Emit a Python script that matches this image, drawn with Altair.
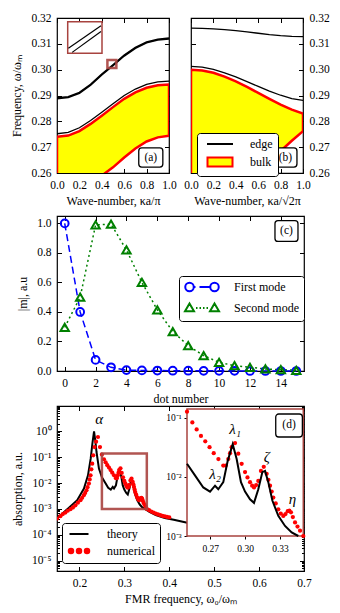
import altair as alt
import pandas as pd

FONT = "Liberation Serif"
BROWN = "#a8433f"

# ---------------- panel (a) ----------------
k = [0.0, 0.1, 0.2, 0.3, 0.4, 0.5, 0.6, 0.7, 0.8, 0.9, 1.0]
a_edge1_lo = [0.2888, 0.2892, 0.2909, 0.2940, 0.2980, 0.3016, 0.3053, 0.3083, 0.3104, 0.3115, 0.3119]
a_edge1_hi = [0.2891, 0.2895, 0.2912, 0.2943, 0.2983, 0.3019, 0.3056, 0.3086, 0.3107, 0.3118, 0.3122]
a_edge2 = [0.2752, 0.2757, 0.2775, 0.2803, 0.2835, 0.2868, 0.2900, 0.2925, 0.2943, 0.2953, 0.2956]
a_bulk_top = [0.2740, 0.2745, 0.2762, 0.2790, 0.2822, 0.2855, 0.2887, 0.2912, 0.2930, 0.2940, 0.2943]
a_bulk_bot = [0.2525, 0.2530, 0.2545, 0.2565, 0.2590, 0.2622, 0.2660, 0.2695, 0.2722, 0.2738, 0.2744]
# zoomed inset of the double line
a_zoom_k_hi = [0.4516, 0.5276]
a_zoom_f_hi = [0.30110, 0.30330]
a_zoom_k_lo = [0.4604, 0.5276]
a_zoom_f_lo = [0.30069, 0.30274]

# ---------------- panel (b) ----------------
b_edge_top = [0.3161, 0.3160, 0.3158, 0.3155, 0.3151, 0.3146, 0.3141, 0.3136, 0.3132, 0.3129, 0.3128]
b_edge2 = [0.3013, 0.3010, 0.3001, 0.2988, 0.2972, 0.2954, 0.2935, 0.2917, 0.2901, 0.2888, 0.2881]
b_bulk_top = [0.3000, 0.2997, 0.2988, 0.2973, 0.2955, 0.2933, 0.2910, 0.2887, 0.2865, 0.2845, 0.2830]
b_bulk_bot = [0.2450, 0.2458, 0.2475, 0.2500, 0.2530, 0.2565, 0.2605, 0.2645, 0.2685, 0.2725, 0.2762]

# ---------------- panel (c) ----------------
dot_number = list(range(16))
first_mode = [1.0, 0.40, 0.075, 0.025, 0.006, 0.004, 0.003, 0.002, 0.002, 0.001, 0.001, 0.001, 0.0, 0.0, 0.0, 0.0]
second_mode = [0.296, 0.50, 0.99, 0.995, 0.82, 0.60, 0.414, 0.267, 0.172, 0.104, 0.059, 0.036, 0.025, 0.014, 0.009, 0.005]

# ---------------- panel (d) ----------------
theory_w = [0.150, 0.158, 0.176, 0.195, 0.210, 0.219, 0.225, 0.229, 0.2325, 0.2355, 0.238, 0.2434,
            0.2500, 0.257, 0.264, 0.2698, 0.2741, 0.2769, 0.2812, 0.285, 0.2893, 0.2927, 0.2964,
            0.2999, 0.3042, 0.3076, 0.3113, 0.3148, 0.3171, 0.3199, 0.3234, 0.3285, 0.3343, 0.340,
            0.3457, 0.355, 0.370, 0.390, 0.410, 0.440, 0.470, 0.500]
theory_log10 = [-3.37, -3.24, -2.96, -2.66, -2.21, -1.70, -1.06, -0.45, 0.0, -0.40, -0.80, -1.44,
                -1.78, -1.98, -2.18, -2.25, -2.15, -2.21, -2.09, -1.73, -1.45, -1.70, -2.09,
                -2.25, -2.38, -2.44, -2.21, -1.92, -1.90, -2.09, -2.40, -2.66, -2.83, -2.94,
                -3.00, -3.10, -3.24, -3.35, -3.42, -3.53, -3.60, -3.66]
num_w = [0.150, 0.1575, 0.163, 0.1687, 0.174, 0.180, 0.1855, 0.191, 0.1965, 0.2023, 0.206, 0.2098,
         0.2127, 0.2157, 0.218, 0.221, 0.2228, 0.2247, 0.2265, 0.2284, 0.2307, 0.2336, 0.2370,
         0.2412, 0.2457, 0.2500, 0.2546, 0.2583, 0.2620, 0.2657, 0.2694, 0.2730, 0.2770, 0.2812,
         0.2833, 0.2855, 0.2870, 0.2884, 0.2913, 0.2941, 0.2970, 0.2999, 0.3020, 0.3042, 0.3060,
         0.3076, 0.3095, 0.3113, 0.3136, 0.3160, 0.3185, 0.3200, 0.3214, 0.3228, 0.3242, 0.3263,
         0.3285, 0.3306, 0.3328, 0.3347, 0.3366, 0.3380, 0.3394, 0.3410, 0.3429, 0.3450, 0.3472,
         0.3500, 0.3550, 0.3600, 0.3650, 0.3700, 0.3750, 0.3800, 0.3850, 0.3900, 0.3950, 0.4000]
num_log10 = [-3.37, -3.28, -3.20, -3.14, -3.07, -3.01, -2.94, -2.86, -2.76, -2.66, -2.57, -2.47,
             -2.38, -2.28, -2.16, -2.02, -1.86, -1.70, -1.47, -1.25, -0.93, -0.61, -0.40,
             -0.22, -0.61, -0.90, -1.08, -1.20, -1.31, -1.40, -1.50, -1.60, -1.70, -1.81,
             -1.81, -1.70, -1.60, -1.50, -1.43, -1.61, -1.78, -1.92, -2.01, -2.09, -2.15,
             -2.18, -2.14, -2.07, -1.90, -1.83, -1.95, -2.05, -2.15, -2.25, -2.35, -2.45,
             -2.55, -2.62, -2.66, -2.63, -2.58, -2.57, -2.60, -2.68, -2.77, -2.84, -2.91,
             -3.00, -3.05, -3.10, -3.14, -3.18, -3.21, -3.24, -3.27, -3.29, -3.31, -3.33]
peak_labels = ["α", "λ₁", "λ₂", "ζ", "η"]
peak_w = [0.244, 0.2913, 0.2741, 0.3185, 0.3406]
peak_log10 = [0.49, -1.19, -1.95, -1.67, -2.38]

# panel label boxes (data coordinates of each panel)
lab_a = dict(x=0.73, x2=0.945, y=0.2623, y2=0.2697)
lab_b = dict(x=0.74, x2=0.946, y=0.2623, y2=0.2697)
lab_c = dict(x=13.62, x2=15.11, y=0.878, y2=1.018)
lab_d = dict(x=0.3263, x2=0.3492, y=10 ** -1.327, y2=10 ** -0.938)

# ---------------- sizes ----------------
AW, AH = 112, 155
CW, CH = 247, 155
DW, DH = 247, 165

DUMMY = pd.DataFrame({"x": [1.0], "y": [1.0]})
DECADE = "abs(log(datum.value)/LN10 - round(log(datum.value)/LN10)) < 0.001"


def lab_axis(orient, values, fmt=None, title=None, label_expr=None, title_pad=5):
    kw = dict(orient=orient, values=values, ticks=False, domain=False, grid=False,
              labelFont=FONT, labelFontSize=11.5, labelPadding=6, labelColor="black",
              titleFont=FONT, titleFontSize=12, titleFontWeight="normal", titleColor="black",
              titlePadding=title_pad, labelFlush=False, labelOverlap=False)
    if fmt:
        kw["format"] = fmt
    if label_expr:
        kw["labelExpr"] = label_expr
    kw["title"] = title if title else None
    return alt.Axis(**kw)


def inward_ticks(xdom, ydom, w, h, xvals, yvals, ytype="linear", minor=False):
    base = alt.Chart(DUMMY).transform_filter("false").mark_point(opacity=0)

    def ax(orient, off, vals, cond):
        ts = {"condition": {"test": DECADE, "value": 4.5}, "value": 2.5} if cond else 4.5
        return alt.Axis(orient=orient, offset=off, values=vals, labels=False, domain=False,
                        grid=False, title=None, ticks=True, tickSize=ts, tickColor="black",
                        tickWidth=1, minExtent=0, maxExtent=5)
    if ytype == "log":
        ysc = alt.Scale(domain=ydom, type="log", nice=False)
    else:
        ysc = alt.Scale(domain=ydom, nice=False, zero=False)
    out = []
    for xo, yo in [("top", "right"), ("bottom", "left")]:
        out.append(base.encode(
            x=alt.X("x:Q", scale=alt.Scale(domain=xdom, nice=False, zero=False),
                    axis=ax(xo, -h, xvals, False)),
            y=alt.Y("y:Q", scale=ysc, axis=ax(yo, -w, yvals, minor))))
    return out


def label_box(df_box, text, xsc, ysc):
    d = pd.DataFrame([{**df_box, "t": text,
                       "xm": (df_box["x"] + df_box["x2"]) / 2}])
    if ysc.type == "log":
        d["ym"] = (d["y"] * d["y2"]) ** 0.5
    else:
        d["ym"] = (d["y"] + d["y2"]) / 2
    rect = alt.Chart(d).mark_rect(fill="white", stroke="black", strokeWidth=1.3,
                                  cornerRadius=3).encode(
        x=alt.X("x:Q", scale=xsc, axis=None), x2="x2:Q",
        y=alt.Y("y:Q", scale=ysc, axis=None), y2="y2:Q")
    txt = alt.Chart(d).mark_text(font=FONT, fontSize=11.5, color="black").encode(
        x=alt.X("xm:Q", scale=xsc, axis=None), y=alt.Y("ym:Q", scale=ysc, axis=None),
        text="t:N")
    return [rect, txt]


def legend_layer(labels, shapes, strokes, fills, lx, ly, size=100, sym_off=12, lab_off=24,
                 row_pad=3, pad=5):
    leg = alt.Legend(title=None, orient="none", legendX=lx, legendY=ly, strokeColor="black",
                     fillColor="white", cornerRadius=3, padding=pad, labelFont=FONT,
                     labelFontSize=12, labelColor="black", symbolStrokeWidth=2,
                     symbolSize=size, symbolOffset=sym_off, labelOffset=lab_off,
                     rowPadding=row_pad, symbolOpacity=1)
    d = pd.DataFrame({"lab": labels})
    return alt.Chart(d).transform_filter("false").mark_point(filled=True).encode(
        shape=alt.Shape("lab:N", scale=alt.Scale(domain=labels, range=shapes), legend=leg),
        stroke=alt.Stroke("lab:N", scale=alt.Scale(domain=labels, range=strokes), legend=leg),
        fill=alt.Fill("lab:N", scale=alt.Scale(domain=labels, range=fills), legend=leg))


def panel(layers, w, h):
    return alt.layer(*layers).resolve_scale(x="independent", y="independent").properties(
        width=w, height=h)


# ================= panel (a) =================
xa_sc = alt.Scale(domain=[0, 1], nice=False, zero=False)
ya_sc = alt.Scale(domain=[0.26, 0.32], nice=False, zero=False)
kvals = [0, 0.2, 0.4, 0.6, 0.8, 1.0]
fvals = [0.26, 0.27, 0.28, 0.29, 0.30, 0.31, 0.32]

dfa = pd.DataFrame({"k": k, "bt": a_bulk_top, "bb": a_bulk_bot})
dfa_lines = pd.concat([
    pd.DataFrame({"k": k, "f": a_edge1_lo, "s": "e1lo", "w": 1.6}),
    pd.DataFrame({"k": k, "f": a_edge1_hi, "s": "e1hi", "w": 1.6}),
    pd.DataFrame({"k": k, "f": a_edge2, "s": "e2", "w": 1.3}),
])
a_area = alt.Chart(dfa).mark_area(fill="yellow", stroke="red", strokeWidth=2.5, clip=True).encode(
    x=alt.X("k:Q", scale=xa_sc, axis=lab_axis("bottom", kvals, ".1f", "Wave-number, κa/π")),
    y=alt.Y("bt:Q", scale=ya_sc, axis=lab_axis("left", fvals, ".2f", "Frequency, ω/ωₘ", title_pad=7)),
    y2="bb:Q")
a_lines = alt.Chart(dfa_lines).mark_line(color="black", clip=True).encode(
    x=alt.X("k:Q", scale=xa_sc, axis=None), y=alt.Y("f:Q", scale=ya_sc, axis=None), detail="s:N",
    strokeWidth=alt.StrokeWidth("w:Q", scale=None, legend=None))
a_mark = alt.Chart(pd.DataFrame({"x": [0.45], "x2": [0.53], "y": [0.3006], "y2": [0.3037]})).mark_rect(
    fill=None, stroke=BROWN, strokeWidth=2.5, strokeOpacity=0.9).encode(
    x=alt.X("x:Q", scale=xa_sc, axis=None), x2="x2:Q", y=alt.Y("y:Q", scale=ya_sc, axis=None), y2="y2:Q")

# inset (zoom of double line)
ai_x = alt.Scale(domain=[0.45, 0.53], range=[10.7, 45], nice=False, zero=False)
ai_y = alt.Scale(domain=[0.3006, 0.3037], range=[35.3, 3.7], nice=False, zero=False)
ai_box = alt.Chart(pd.DataFrame({"x": [0.45], "x2": [0.53], "y": [0.3006], "y2": [0.3037]})).mark_rect(
    fill="white", stroke=BROWN, strokeWidth=1.5).encode(
    x=alt.X("x:Q", scale=ai_x, axis=None), x2="x2:Q", y=alt.Y("y:Q", scale=ai_y, axis=None), y2="y2:Q")
ai_df = pd.concat([pd.DataFrame({"k": a_zoom_k_hi, "f": a_zoom_f_hi, "s": "hi"}),
                   pd.DataFrame({"k": a_zoom_k_lo, "f": a_zoom_f_lo, "s": "lo"})])
ai_lines = alt.Chart(ai_df).mark_line(color="black", strokeWidth=1.2).encode(
    x=alt.X("k:Q", scale=ai_x, axis=None), y=alt.Y("f:Q", scale=ai_y, axis=None), detail="s:N")

A = panel([a_area, a_lines, a_mark, *label_box(lab_a, "(a)", xa_sc, ya_sc), ai_box, ai_lines,
           *inward_ticks([0, 1], [0.26, 0.32], AW, AH, kvals, fvals)], AW, AH)

# ================= panel (b) =================
dfb = pd.DataFrame({"k": k, "bt": b_bulk_top, "bb": b_bulk_bot})
dfb_lines = pd.concat([
    pd.DataFrame({"k": k, "f": b_edge_top, "s": "top"}),
    pd.DataFrame({"k": k, "f": b_edge2, "s": "e2"}),
])
b_area = alt.Chart(dfb).mark_area(fill="yellow", stroke="red", strokeWidth=2.5, clip=True).encode(
    x=alt.X("k:Q", scale=xa_sc, axis=lab_axis("bottom", kvals, ".1f", "Wave-number, κa/√2π")),
    y=alt.Y("bt:Q", scale=ya_sc, axis=lab_axis("right", fvals, ".2f", None)),
    y2="bb:Q")
b_lines = alt.Chart(dfb_lines).mark_line(color="black", strokeWidth=1.3, clip=True).encode(
    x=alt.X("k:Q", scale=xa_sc, axis=None), y=alt.Y("f:Q", scale=ya_sc, axis=None), detail="s:N")
b_leg = legend_layer(["edge", "bulk"], ["M-2.6,0H2.6", "M-2.5,-0.9H2.5V0.9H-2.5Z"],
                     ["black", "red"], ["transparent", "yellow"], 6, 115)
B = panel([b_area, b_lines, *label_box(lab_b, "(b)", xa_sc, ya_sc), b_leg,
           *inward_ticks([0, 1], [0.26, 0.32], AW, AH, kvals, fvals)], AW, AH)

# ================= panel (c) =================
xc_sc = alt.Scale(domain=[-0.5, 15.5], nice=False, zero=False)
yc_sc = alt.Scale(domain=[0, 1.05], nice=False, zero=False)
cx_vals = [0, 2, 4, 6, 8, 10, 12, 14]
cy_vals = [0.0, 0.2, 0.4, 0.6, 0.8, 1.0]
dfc = pd.DataFrame({"n": dot_number, "m1": first_mode, "m2": second_mode})
c1_line = alt.Chart(dfc).mark_line(color="blue", strokeWidth=1.5, strokeDash=[7, 4]).encode(
    x=alt.X("n:Q", scale=xc_sc, axis=lab_axis("bottom", cx_vals, "d", "dot number")),
    y=alt.Y("m1:Q", scale=yc_sc, axis=lab_axis("left", cy_vals, ".1f", "|m|, a.u", title_pad=7)))
c1_pts = alt.Chart(dfc).mark_point(shape="circle", size=60, color="blue", strokeWidth=2,
                                   filled=False, opacity=1).encode(
    x=alt.X("n:Q", scale=xc_sc, axis=None), y=alt.Y("m1:Q", scale=yc_sc, axis=None))
c2_line = alt.Chart(dfc).mark_line(color="green", strokeWidth=1.5, strokeDash=[2, 3]).encode(
    x=alt.X("n:Q", scale=xc_sc, axis=None), y=alt.Y("m2:Q", scale=yc_sc, axis=None))
c2_pts = alt.Chart(dfc).mark_point(shape="triangle-up", size=70, color="green", strokeWidth=2,
                                   filled=False, opacity=1).encode(
    x=alt.X("n:Q", scale=xc_sc, axis=None), y=alt.Y("m2:Q", scale=yc_sc, axis=None))
circ = "a0.85,0.85 0 1,0 1.7,0a0.85,0.85 0 1,0 -1.7,0"
c_shapes = [
    "M-3.35,0" + circ + "M1.65,0" + circ + "M-1.65,0H-1.3M-0.5,0H1.65",
    "M-3.4,0.65L-1.6,0.65L-2.5,-0.9Z M1.6,0.65L3.4,0.65L2.5,-0.9Z "
    "M-1.2,0h0.3M-0.5,0h0.3M0.2,0h0.3M0.9,0h0.3",
]
c_leg = legend_layer(["First mode", "Second mode"], c_shapes, ["blue", "green"],
                     ["transparent", "transparent"], 122, 60, sym_off=12, lab_off=26)
C = panel([c1_line, c2_line, c1_pts, c2_pts, *label_box(lab_c, "(c)", xc_sc, yc_sc), c_leg,
           *inward_ticks([-0.5, 15.5], [0, 1.05], CW, CH, cx_vals, cy_vals)], CW, CH)

# ================= panel (d) =================
sup = {"0": "⁰", "1": "¹", "2": "²", "3": "³", "4": "⁴", "5": "⁵", "-": "⁻"}


def pow_label_expr(exps):
    expr = "''"
    for e in exps:
        s = "10" + "".join(sup[c] for c in str(e))
        expr = f"round(log(datum.value)/LN10) == {e} ? '{s}' : " + expr
    return expr


xd_sc = alt.Scale(domain=[0.15, 0.7], nice=False, zero=False)
yd_sc = alt.Scale(domain=[4e-6, 9.5], type="log", nice=False)
dx_vals = [0.2, 0.3, 0.4, 0.5, 0.6, 0.7]
dy_major = [1e-5, 1e-4, 1e-3, 1e-2, 1e-1, 1.0]
dy_ticks = [m * 10.0 ** e for e in range(-6, 1) for m in range(1, 10)
            if 4e-6 <= m * 10.0 ** e <= 9.5]

dft = pd.DataFrame({"w": theory_w, "a": [10 ** v for v in theory_log10]})
dfn = pd.DataFrame({"w": num_w, "a": [10 ** v for v in num_log10]})
dfp = pd.DataFrame({"w": peak_w, "a": [10 ** v for v in peak_log10], "t": peak_labels})

d_theory = alt.Chart(dft).mark_line(color="black", strokeWidth=2, clip=True).encode(
    x=alt.X("w:Q", scale=xd_sc, axis=lab_axis("bottom", dx_vals, ".1f", "FMR frequency, ω₀/ωₘ")),
    y=alt.Y("a:Q", scale=yd_sc, axis=lab_axis("left", dy_major, None, "absorption, a.u.",
                                               label_expr=pow_label_expr([0, -1, -2, -3, -4, -5]),
                                               title_pad=7)))
d_num = alt.Chart(dfn).mark_circle(color="red", size=18, opacity=1, clip=True).encode(
    x=alt.X("w:Q", scale=xd_sc, axis=None), y=alt.Y("a:Q", scale=yd_sc, axis=None))
d_rect = alt.Chart(pd.DataFrame({"x": [0.25], "x2": [0.35], "y": [1e-3], "y2": [0.14]})).mark_rect(
    fill=None, stroke=BROWN, strokeWidth=2.5, strokeOpacity=0.9).encode(
    x=alt.X("x:Q", scale=xd_sc, axis=None), x2="x2:Q", y=alt.Y("y:Q", scale=yd_sc, axis=None), y2="y2:Q")
d_alpha = alt.Chart(dfp.iloc[:1]).mark_text(font=FONT, fontSize=15, fontStyle="italic", color="black").encode(
    x=alt.X("w:Q", scale=xd_sc, axis=None), y=alt.Y("a:Q", scale=yd_sc, axis=None), text="t:N")
d_leg = legend_layer(["theory", "numerical"],
                     ["M-1.9,0H1.9",
                      "M-2.05,0a0.45,0.45 0 1,0 0.9,0a0.45,0.45 0 1,0 -0.9,0"
                      "M-0.45,0a0.45,0.45 0 1,0 0.9,0a0.45,0.45 0 1,0 -0.9,0"
                      "M1.15,0a0.45,0.45 0 1,0 0.9,0a0.45,0.45 0 1,0 -0.9,0"],
                     ["black", "red"], ["transparent", "red"], 5, 117, sym_off=6, lab_off=22,
                     row_pad=4)

# inset of (d)
di_x = alt.Scale(domain=[0.25, 0.35], range=[130, 246.3], nice=False, zero=False)
di_y = alt.Scale(domain=[1e-3, 0.14], range=[130, 3], type="log", nice=False)
di_box = alt.Chart(pd.DataFrame({"x": [0.25], "x2": [0.35], "y": [1e-3], "y2": [0.14]})).mark_rect(
    fill="white", stroke=BROWN, strokeWidth=1.5).encode(
    x=alt.X("x:Q", scale=di_x, axis=alt.Axis(orient="bottom", offset=-(DH - 130), values=[0.27, 0.30, 0.33],
                                                format=".2f", domain=False, grid=False, tickSize=3,
                                                tickColor="black", labelFont=FONT, labelFontSize=9.5,
                                                labelColor="black", labelPadding=4, title=None,
                                                minExtent=0, maxExtent=5)),
    x2="x2:Q",
    y=alt.Y("y:Q", scale=di_y, axis=alt.Axis(orient="left", offset=-130, values=[1e-3, 1e-2, 1e-1],
                                              domain=False, grid=False, tickSize=3, tickColor="black",
                                              labelFont=FONT, labelFontSize=9.5, labelColor="black",
                                              labelPadding=3, title=None, minExtent=0, maxExtent=5,
                                              labelExpr=pow_label_expr([-1, -2, -3]))),
    y2="y2:Q")
di_theory = alt.Chart(dft).transform_filter("datum.w >= 0.25 && datum.w <= 0.35").mark_line(
    color="black", strokeWidth=2).encode(
    x=alt.X("w:Q", scale=di_x, axis=None), y=alt.Y("a:Q", scale=di_y, axis=None))
di_num = alt.Chart(dfn).transform_filter("datum.w >= 0.25 && datum.w <= 0.35").mark_circle(
    color="red", size=18, opacity=1).encode(
    x=alt.X("w:Q", scale=di_x, axis=None), y=alt.Y("a:Q", scale=di_y, axis=None))
di_txt = alt.Chart(dfp.iloc[1:]).mark_text(font=FONT, fontSize=15, fontStyle="italic", color="black").encode(
    x=alt.X("w:Q", scale=di_x, axis=None), y=alt.Y("a:Q", scale=di_y, axis=None), text="t:N")

D = panel([d_theory, d_num, d_rect, d_alpha, d_leg,
           di_box, di_num, di_theory, di_txt, *label_box(lab_d, "(d)", di_x, di_y),
           *inward_ticks([0.15, 0.7], [4e-6, 9.5], DW, DH, dx_vals, dy_ticks, ytype="log", minor=True)],
          DW, DH)

top = alt.hconcat(A, B, spacing=6).resolve_scale(shape="independent", stroke="independent",
                                                 fill="independent")
bottom = alt.vconcat(C, D, spacing=-7).resolve_scale(shape="independent", stroke="independent",
                                                    fill="independent")
chart = alt.vconcat(top, bottom, spacing=6).resolve_scale(
    shape="independent", stroke="independent", fill="independent").properties(
    padding={"left": 2, "top": 3, "right": 2, "bottom": 2}
).configure(font=FONT).configure_view(stroke="black", strokeWidth=1.2).configure_axis(
    labelColor="black", labelFont=FONT, titleFont=FONT).configure_legend(labelFont=FONT).configure_text(
    font=FONT)

chart.save("out.html", embed_options={"renderer": "svg", "actions": False})
